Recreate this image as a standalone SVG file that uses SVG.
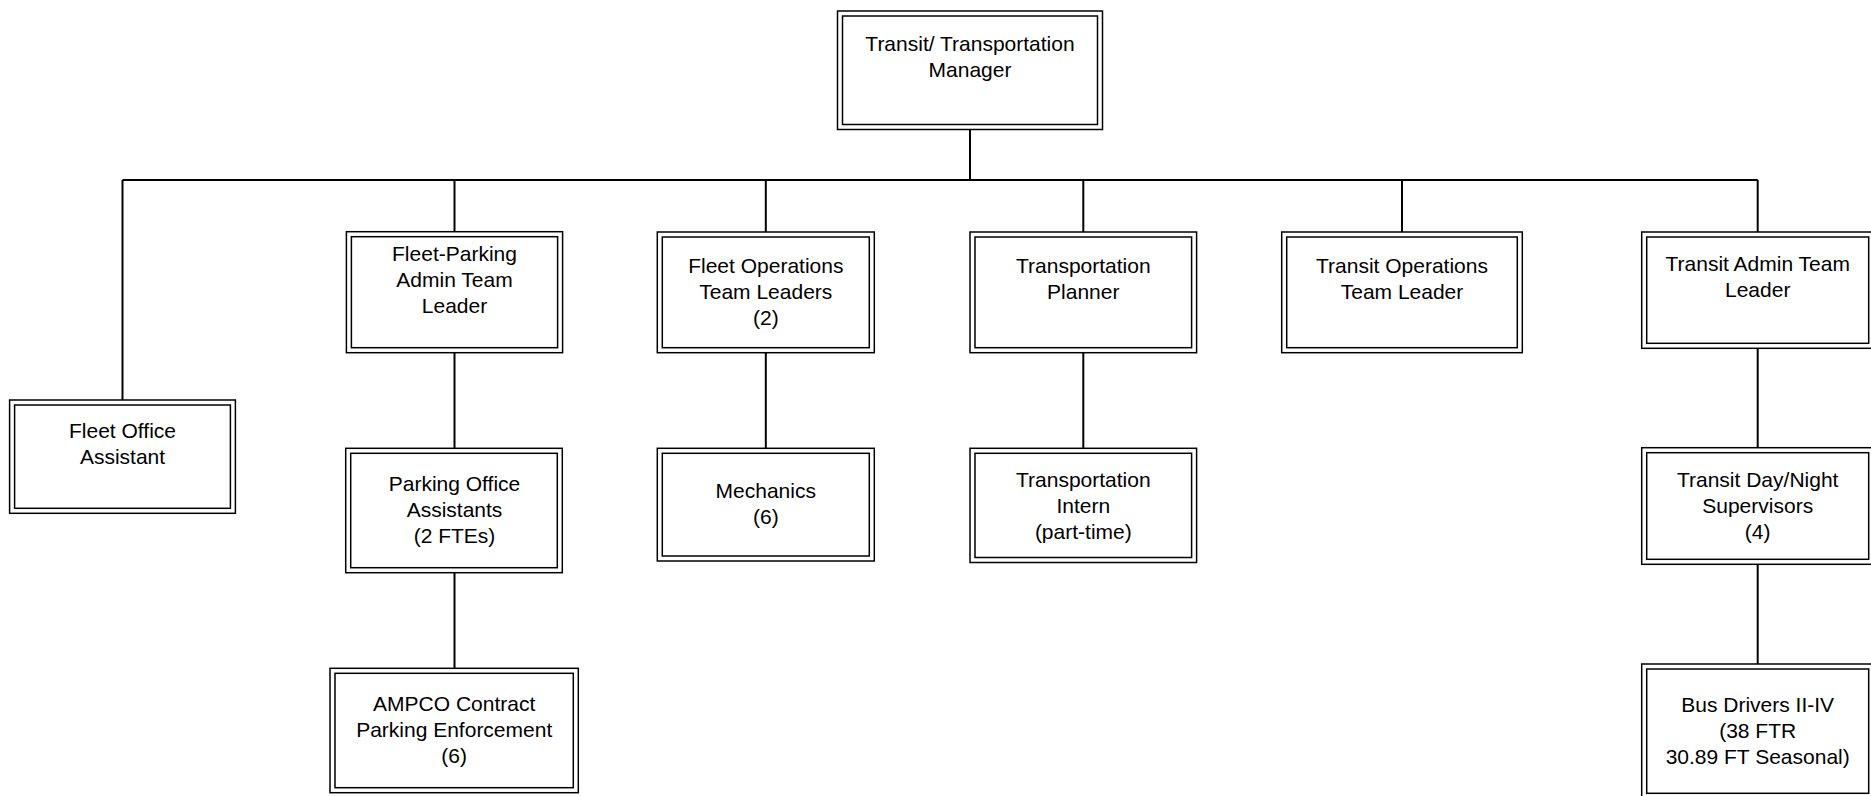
<svg xmlns="http://www.w3.org/2000/svg" width="1871" height="796" viewBox="0 0 1871 796">
  <style>
    .frame { fill: #fff; stroke: #000; stroke-width: 1.5; }
    .inner { fill: none; stroke: #000; stroke-width: 1.5; }
    .link { fill: none; stroke: #000; stroke-width: 2; }
    text { font-family: "Liberation Sans", Arial, sans-serif; font-size: 21px; fill: #000; text-anchor: middle; }
  </style>
  <rect width="1871" height="796" fill="#fff"/>

  <!-- reporting lines -->
  <g id="connectors">
    <line class="link" x1="970" y1="129.5" x2="970" y2="180"/>
    <line class="link" x1="122.5" y1="180" x2="1757.7" y2="180"/>
    <line class="link" x1="122.5" y1="180" x2="122.5" y2="400"/>
    <line class="link" x1="454.5" y1="180" x2="454.5" y2="231.7"/>
    <line class="link" x1="765.8" y1="180" x2="765.8" y2="232"/>
    <line class="link" x1="1083.3" y1="180" x2="1083.3" y2="232"/>
    <line class="link" x1="1402" y1="180" x2="1402" y2="232"/>
    <line class="link" x1="1757.7" y1="180" x2="1757.7" y2="232"/>
    <line class="link" x1="454.5" y1="352.7" x2="454.5" y2="448.3"/>
    <line class="link" x1="454.5" y1="572.7" x2="454.5" y2="668.3"/>
    <line class="link" x1="765.8" y1="352.7" x2="765.8" y2="448.3"/>
    <line class="link" x1="1083.3" y1="352.7" x2="1083.3" y2="448.3"/>
    <line class="link" x1="1757.7" y1="348.3" x2="1757.7" y2="447.7"/>
    <line class="link" x1="1757.7" y1="564.3" x2="1757.7" y2="664"/>
  </g>

  <g id="manager">
    <rect class="frame" x="837.5" y="11" width="265" height="118.5"/>
    <rect class="inner" x="842.5" y="16" width="255" height="108.5"/>
    <text x="970" y="50.5">Transit/ Transportation</text>
    <text x="970" y="76.5">Manager</text>
  </g>

  <g id="fleet-office-assistant">
    <rect class="frame" x="9.6" y="400" width="225.8" height="113.3"/>
    <rect class="inner" x="14.6" y="405" width="215.8" height="103.3"/>
    <text x="122.5" y="438">Fleet Office</text>
    <text x="122.5" y="464">Assistant</text>
  </g>

  <g id="fleet-parking-admin">
    <rect class="frame" x="346.4" y="231.7" width="216.2" height="121"/>
    <rect class="inner" x="351.4" y="236.7" width="206.2" height="111"/>
    <text x="454.5" y="261">Fleet-Parking</text>
    <text x="454.5" y="287">Admin Team</text>
    <text x="454.5" y="313">Leader</text>
  </g>

  <g id="fleet-operations">
    <rect class="frame" x="657.3" y="232" width="217" height="120.7"/>
    <rect class="inner" x="662.3" y="237" width="207" height="110.7"/>
    <text x="765.8" y="272.5">Fleet Operations</text>
    <text x="765.8" y="298.5">Team Leaders</text>
    <text x="765.8" y="324.5">(2)</text>
  </g>

  <g id="transportation-planner">
    <rect class="frame" x="970" y="232" width="226.6" height="120.7"/>
    <rect class="inner" x="975" y="237" width="216.6" height="110.7"/>
    <text x="1083.3" y="272.5">Transportation</text>
    <text x="1083.3" y="298.5">Planner</text>
  </g>

  <g id="transit-operations">
    <rect class="frame" x="1281.7" y="232" width="240.6" height="120.7"/>
    <rect class="inner" x="1286.7" y="237" width="230.6" height="110.7"/>
    <text x="1402" y="272.5">Transit Operations</text>
    <text x="1402" y="298.5">Team Leader</text>
  </g>

  <g id="transit-admin">
    <rect class="frame" x="1641.7" y="232" width="232" height="116.3"/>
    <rect class="inner" x="1646.7" y="237" width="222" height="106.3"/>
    <text x="1757.7" y="270.5">Transit Admin Team</text>
    <text x="1757.7" y="296.5">Leader</text>
  </g>

  <g id="parking-office-assistants">
    <rect class="frame" x="345.7" y="448.3" width="216.6" height="124.4"/>
    <rect class="inner" x="350.7" y="453.3" width="206.6" height="114.4"/>
    <text x="454.5" y="491">Parking Office</text>
    <text x="454.5" y="517">Assistants</text>
    <text x="454.5" y="543">(2 FTEs)</text>
  </g>

  <g id="mechanics">
    <rect class="frame" x="657.3" y="448.3" width="217" height="112.7"/>
    <rect class="inner" x="662.3" y="453.3" width="207" height="102.7"/>
    <text x="765.8" y="498">Mechanics</text>
    <text x="765.8" y="524">(6)</text>
  </g>

  <g id="transportation-intern">
    <rect class="frame" x="970" y="448.3" width="226.6" height="114.2"/>
    <rect class="inner" x="975" y="453.3" width="216.6" height="104.2"/>
    <text x="1083.3" y="486.5">Transportation</text>
    <text x="1083.3" y="512.5">Intern</text>
    <text x="1083.3" y="538.5">(part-time)</text>
  </g>

  <g id="transit-supervisors">
    <rect class="frame" x="1641.7" y="447.7" width="232" height="116.6"/>
    <rect class="inner" x="1646.7" y="452.7" width="222" height="106.6"/>
    <text x="1757.7" y="486.5">Transit Day/Night</text>
    <text x="1757.7" y="512.5">Supervisors</text>
    <text x="1757.7" y="538.5">(4)</text>
  </g>

  <g id="ampco-enforcement">
    <rect class="frame" x="330" y="668.3" width="248.3" height="124.4"/>
    <rect class="inner" x="335" y="673.3" width="238.3" height="114.4"/>
    <text x="454.2" y="711">AMPCO Contract</text>
    <text x="454.2" y="737">Parking Enforcement</text>
    <text x="454.2" y="763">(6)</text>
  </g>

  <g id="bus-drivers">
    <rect class="frame" x="1641.7" y="664" width="232" height="134"/>
    <rect class="inner" x="1646.7" y="669" width="222" height="124.3"/>
    <text x="1757.7" y="712">Bus Drivers II-IV</text>
    <text x="1757.7" y="738">(38 FTR</text>
    <text x="1757.7" y="764">30.89 FT Seasonal)</text>
  </g>
</svg>
